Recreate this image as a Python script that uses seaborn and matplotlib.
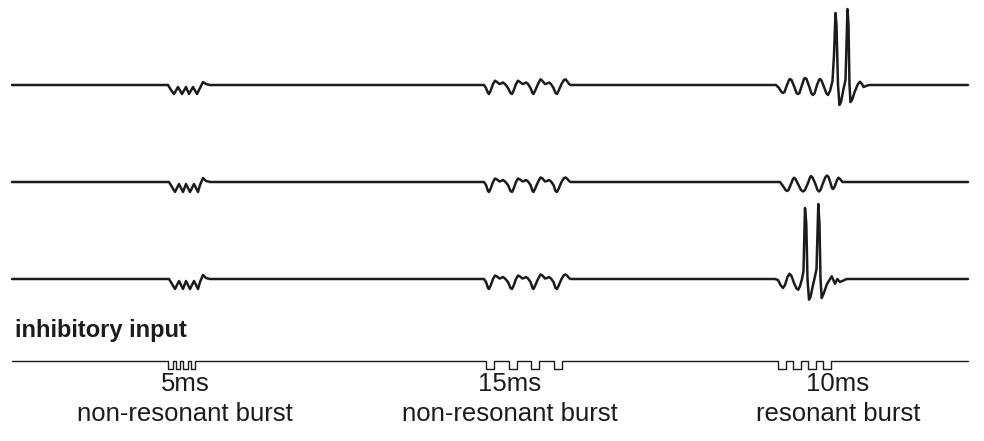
import numpy as np
import pandas as pd
import matplotlib
matplotlib.use("Agg")
import matplotlib.pyplot as plt
import seaborn as sns

sns.set_theme(style="white")
plt.rcParams['font.family'] = ['Liberation Sans', 'DejaVu Sans']

# ---- data (time in canvas units, voltage deflection relative to baseline) ----
trace_names = ["trace1", "trace2", "trace3"]
trace_offsets = [-85, -182, -279]
t_start, t_end = 0, 956

# burst A (5 ms, non-resonant) responses
a1_t = [156, 159, 162, 166, 170, 174, 177, 181, 185, 188, 191, 194, 198]
a1_v = [0, -5, -9, -2, -9, -2, -9, -2, -9, -3, 3, 1, 0]
a2_t = [157, 160, 163, 167, 171, 174, 178, 182, 186, 188, 191, 194, 198]
a2_v = [0, -5, -10, -2, -10, -2, -10, -2, -10, -3, 4, 1, 0]

# burst B (15 ms, non-resonant) responses
b1_t = [472, 474, 476, 477, 478.5, 481, 483, 485, 487.5, 489, 491, 493,
        496, 498.5, 500, 501.5, 504, 506, 508, 510.5, 512, 514, 516,
        518.5, 520.5, 521.5, 523, 526, 528.5, 530.5, 533, 535, 537, 539,
        541.5, 543.5, 545, 546.5, 549.5, 552, 553.5, 555, 557, 558.5]
b1_v = [0, -3, -8, -9, -6, 1, 4.3, 3, 1, 1.5, 2.5, 1,
        -3, -8, -9, -6, 1, 4.3, 3, 1, 1.5, 2.5, 1,
        -3, -8, -9, -6, 1, 5.7, 4, 1, 1.5, 2.5, 1,
        -3, -8, -9, -6, 1, 5, 5.7, 4, 1, 0]
b2_t = b1_t
b2_v = [0, -3, -9, -10, -7, 0, 3.5, 2.5, 0.5, 1, 2, 0.5,
        -3, -9, -10, -7, 0, 3.5, 2.5, 0.5, 1, 2, 0.5,
        -3, -9, -10, -7, 0, 4.5, 3.5, 0.5, 1, 2, 0.5,
        -3, -9, -10, -7, 0, 4, 4.5, 3.5, 1, 0]

# burst C (10 ms, resonant) responses
c1_t = [764, 767, 769.5, 771, 772.5, 775, 777, 778, 779.5, 782, 784.5, 786, 787.5,
        790, 792, 793, 794.5, 797, 799.5, 801, 802.5, 805, 807, 808, 809.5, 812,
        814.5, 816, 818, 820.5, 822, 823.5, 824.5, 826, 827.5, 829, 831.5, 833.5,
        835.5, 836.5, 837.5, 838.5, 840, 843, 846, 848, 850, 851.5, 854, 857]
c1_v = [0, -3, -7, -8, -7, 0, 5, 6, 5, -1, -8, -9, -8,
        0, 6, 7, 6, -1, -8.5, -10, -8.5, 0, 5, 6, 4.5, -2,
        -8.5, -10, -6, 4, 30, 72, 60, 0, -20, -17, -4, 5,
        76, 60, 0, -17, -15, -6, 1, 3.3, 1, -2, -1, 0]
c2_t = [768, 771, 773.5, 775, 776.5, 779, 781, 782, 783.5, 786, 789, 791, 793,
        796, 798, 799, 800.5, 803, 805.5, 807, 808.5, 811, 813.5, 815, 816.5,
        818.5, 820, 821, 822.5, 825, 826.5, 828, 830.5, 833]
c2_v = [0, -4, -8, -9, -8, -2, 3, 4.3, 3, -2, -8, -9.5, -8,
        -1, 4.5, 6, 4.5, -1, -8, -9.5, -8, -1, 5, 6.5, 5,
        -1, -6, -7, -5, 2, 4.3, 3, 0, 0]
c3_t = [763, 766, 768.5, 771, 773, 775.5, 777.5, 779.5, 782, 784.5, 786.3, 788,
        790, 791.5, 793, 794.3, 795.5, 797, 798.5, 801, 803, 804.5, 806.3, 807.5,
        808.5, 809.7, 811.5, 815, 819.7, 823, 825.3, 828, 834.7]
c3_v = [0, -1, -6, -9, -6, 2, 5.3, 3, -4, -9.5, -10.7, -7,
        0, 8, 71, 55, 0, -20.7, -18, -6, 2.7, 10, 75, 55,
        0, -19, -15, -5, 2.7, -4.7, 0, -3, 0]

# inhibitory input pulses
pulse_onsets = [156, 163.5, 171, 178.5,      # 5 ms
                474, 496.5, 519, 541.5,      # 15 ms
                766, 781, 796, 811]          # 10 ms
pulse_widths = [4.5] * 4 + [8] * 8
pulse_depth = -8
input_offset = -361

labels_top = ["5ms", "15ms", "10ms"]
labels_bottom = ["non-resonant burst", "non-resonant burst", "resonant burst"]
label_t = [173, 498, 826]

# ---- build tables ----
trace_bursts = {
    "trace1": [(a1_t, a1_v), (b1_t, b1_v), (c1_t, c1_v)],
    "trace2": [(a2_t, a2_v), (b2_t, b2_v), (c2_t, c2_v)],
    "trace3": [(a2_t, a2_v), (b2_t, b2_v), (c3_t, c3_v)],
}
rows = []
for name, off in zip(trace_names, trace_offsets):
    ts, vs = [t_start], [0]
    for bt, bv in trace_bursts[name]:
        ts += list(bt)
        vs += list(bv)
    ts.append(t_end)
    vs.append(0)
    for k, (t, v) in enumerate(zip(ts, vs)):
        rows.append({"trace": name, "order": k, "t": t, "v": off + v})
df = pd.DataFrame(rows)

in_t, in_v = [t_start], [0]
for on, w in zip(pulse_onsets, pulse_widths):
    in_t += [on, on, on + w, on + w]
    in_v += [0, pulse_depth, pulse_depth, 0]
in_t.append(t_end)
in_v.append(0)
df_in = pd.DataFrame({"t": in_t, "v": np.array(in_v) + input_offset, "trace": "input"})

# ---- draw ----
fig = plt.figure(figsize=(9.84, 4.41), dpi=100)
ax = fig.add_axes([0, 0, 1, 1])
sns.lineplot(data=df, x="t", y="v", units="trace", estimator=None, sort=False,
             color="#1c1c1c", lw=1.8, ax=ax, legend=False,
             solid_joinstyle="round", solid_capstyle="round")
sns.lineplot(data=df_in, x="t", y="v", estimator=None, sort=False,
             color="#1c1c1c", lw=1.0, ax=ax, legend=False)

ax.text(3, -331, "inhibitory input", fontsize=17, fontweight="bold",
        ha="left", va="center", color="#1c1c1c")
for x, a, b in zip(label_t, labels_top, labels_bottom):
    ax.text(x, -384, a, fontsize=18.5, ha="center", va="center", color="#1c1c1c")
    ax.text(x, -414, b, fontsize=18.5, ha="center", va="center", color="#1c1c1c")

ax.set_xlim(-12, 972)
ax.set_ylim(-441, 0)
ax.axis("off")
fig.savefig("out.png", dpi=100)
